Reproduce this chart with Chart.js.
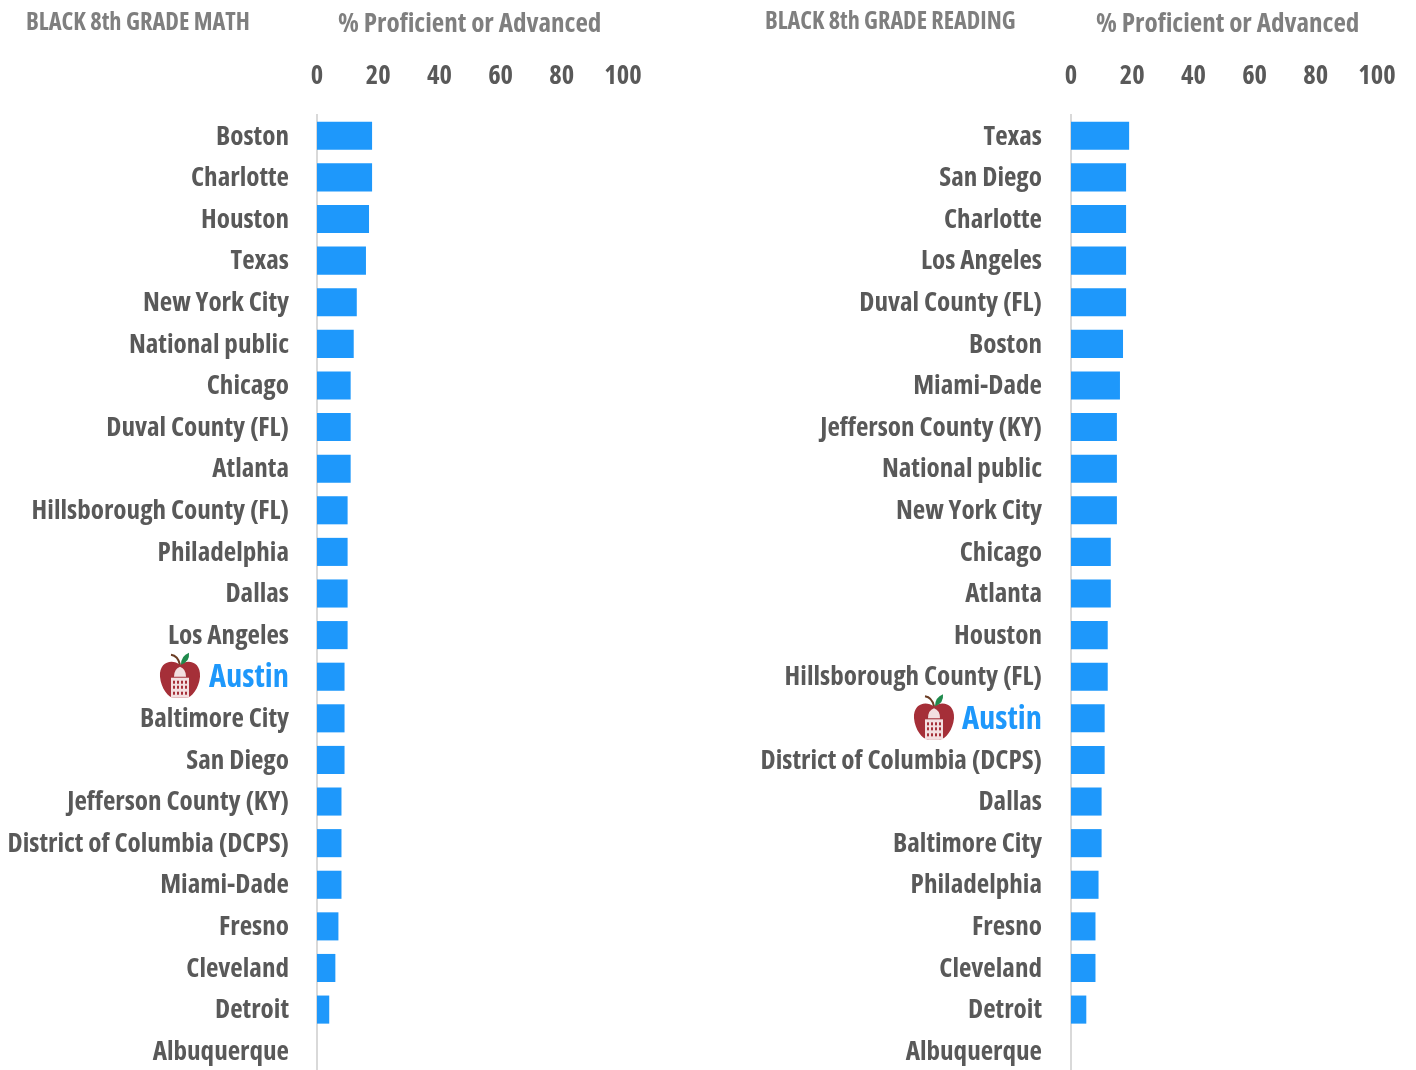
<!DOCTYPE html>
<html>
<head>
<meta charset="utf-8">
<script src="https://cdn.jsdelivr.net/npm/chart.js@4"></script>
<style>
  html, body { margin: 0; padding: 0; background: #fff; overflow: hidden; }
  #page { position: relative; width: 1416px; height: 1070px; overflow: hidden; }
  .box { position: absolute; top: 0; width: 708px; height: 1072px; }
  .box canvas { position: absolute; left: 0; top: 0; }
  .label { position: absolute; white-space: nowrap; color: #7f7f7f; font-family: "Open Sans", sans-serif; font-weight: 700; font-stretch: condensed; }
</style>
</head>
<body>
<div id="page">
  <div class="box" style="left:0"><canvas id="mathChart" width="708" height="1072"></canvas></div>
  <div class="box" style="left:708px"><canvas id="readingChart" width="708" height="1072"></canvas></div>
  <div class="label" style="left:26px;top:4px;font-size:24.4px">BLACK 8th GRADE MATH</div>
  <div class="label" style="left:338px;top:3px;font-size:27.1px">% Proficient or Advanced</div>
  <div class="label" style="left:765px;top:3px;font-size:24.2px">BLACK 8th GRADE READING</div>
  <div class="label" style="left:1096px;top:3px;font-size:27.1px">% Proficient or Advanced</div>
</div>
<script>
const mathCities = ["Boston", "Charlotte", "Houston", "Texas", "New York City", "National public", "Chicago", "Duval County (FL)", "Atlanta", "Hillsborough County (FL)", "Philadelphia", "Dallas", "Los Angeles", "Austin", "Baltimore City", "San Diego", "Jefferson County (KY)", "District of Columbia (DCPS)", "Miami-Dade", "Fresno", "Cleveland", "Detroit", "Albuquerque"];
const mathValues = [18, 18, 17, 16, 13, 12, 11, 11, 11, 10, 10, 10, 10, 9, 9, 9, 8, 8, 8, 7, 6, 4, 0];

const readingCities = ["Texas", "San Diego", "Charlotte", "Los Angeles", "Duval County (FL)", "Boston", "Miami-Dade", "Jefferson County (KY)", "National public", "New York City", "Chicago", "Atlanta", "Houston", "Hillsborough County (FL)", "Austin", "District of Columbia (DCPS)", "Dallas", "Baltimore City", "Philadelphia", "Fresno", "Cleveland", "Detroit", "Albuquerque"];
const readingValues = [19, 18, 18, 18, 18, 17, 16, 15, 15, 15, 13, 13, 12, 12, 11, 11, 10, 10, 9, 8, 8, 5, 0];

const xTicks = [0, 20, 40, 60, 80, 100];
const HIGHLIGHT = "Austin";
const BLUE = "#1e98fb";
const FONT = '"Open Sans", sans-serif';

// apple with the capitol dome, drawn left of the Austin label
function drawApple(ctx, cx, cy) {
  ctx.save();
  ctx.translate(cx, cy);
  ctx.fillStyle = "#a52f38";
  ctx.beginPath();
  ctx.moveTo(0, -12);
  ctx.bezierCurveTo(8, -18, 21, -15, 20, 0);
  ctx.bezierCurveTo(19, 12, 11, 22, 5, 21);
  ctx.lineTo(-5, 21);
  ctx.bezierCurveTo(-11, 22, -19, 12, -20, 0);
  ctx.bezierCurveTo(-21, -15, -8, -18, 0, -12);
  ctx.fill();
  // stem + leaf
  ctx.strokeStyle = "#6b3d24";
  ctx.lineWidth = 2;
  ctx.beginPath();
  ctx.moveTo(0, -12);
  ctx.quadraticCurveTo(-2, -21, -9, -22);
  ctx.stroke();
  ctx.fillStyle = "#1f8a4c";
  ctx.beginPath();
  ctx.moveTo(1, -12);
  ctx.quadraticCurveTo(1, -21, 9, -24);
  ctx.quadraticCurveTo(10, -15, 1, -12);
  ctx.fill();
  // capitol
  ctx.fillStyle = "#f3dfe0";
  ctx.beginPath();
  ctx.moveTo(-6, 0);
  ctx.quadraticCurveTo(-6, -8, 0, -10);
  ctx.quadraticCurveTo(6, -8, 6, 0);
  ctx.fill();
  ctx.fillRect(-9, 1, 18, 20);
  ctx.fillStyle = "#a52f38";
  [4, 9, 15].forEach(y => {
    [-6, -2, 2, 6].forEach(x => ctx.fillRect(x - 1, y, 2, 3));
  });
  ctx.restore();
}

const applePlugin = {
  id: "apple",
  afterDraw(chart) {
    const yScale = chart.scales.y;
    const idx = chart.data.labels.indexOf(HIGHLIGHT);
    drawApple(chart.ctx, yScale.right - 137, yScale.getPixelForTick(idx));
  }
};

function makeChart(id, cities, values, zeroX, labelPad) {
  return new Chart(document.getElementById(id), {
    type: "bar",
    data: {
      labels: cities,
      datasets: [{
        data: values,
        backgroundColor: BLUE,
        barPercentage: 0.9,
        categoryPercentage: 0.75
      }]
    },
    plugins: [applePlugin],
    options: {
      indexAxis: "y",
      responsive: false,
      animation: false,
      layout: { padding: { left: 0, right: 708 - zeroX - 306, top: 62, bottom: 0 } },
      plugins: { legend: { display: false }, tooltip: { enabled: false } },
      scales: {
        x: {
          position: "top",
          min: 0,
          max: 100,
          afterBuildTicks: axis => { axis.ticks = xTicks.map(v => ({ value: v })); },
          afterFit: axis => { axis.height = 53; },
          grid: { display: false },
          border: { display: false },
          ticks: {
            color: "#595959",
            padding: 15,
            maxRotation: 0,
            font: { family: FONT, size: 26.5, weight: "condensed bold" }
          }
        },
        y: {
          afterFit: axis => {
            axis.width = zeroX;
            // no spare room for the last label, plot runs to the page edge
            axis.paddingTop = 0;
            axis.paddingBottom = 0;
          },
          grid: { display: false },
          border: { color: "#d9d9d9", width: 2 },
          ticks: {
            autoSkip: false,
            padding: labelPad,
            labelOffset: 1,
            color: ctx => (cities[ctx.index] === HIGHLIGHT ? BLUE : "#595959"),
            font: ctx => ({
              family: FONT,
              size: cities[ctx.index] === HIGHLIGHT ? 32.5 : 27.1,
              weight: "condensed bold"
            })
          }
        }
      }
    }
  });
}

makeChart("mathChart", mathCities, mathValues, 317, 20);
makeChart("readingChart", readingCities, readingValues, 363, 21);
</script>
</body>
</html>
